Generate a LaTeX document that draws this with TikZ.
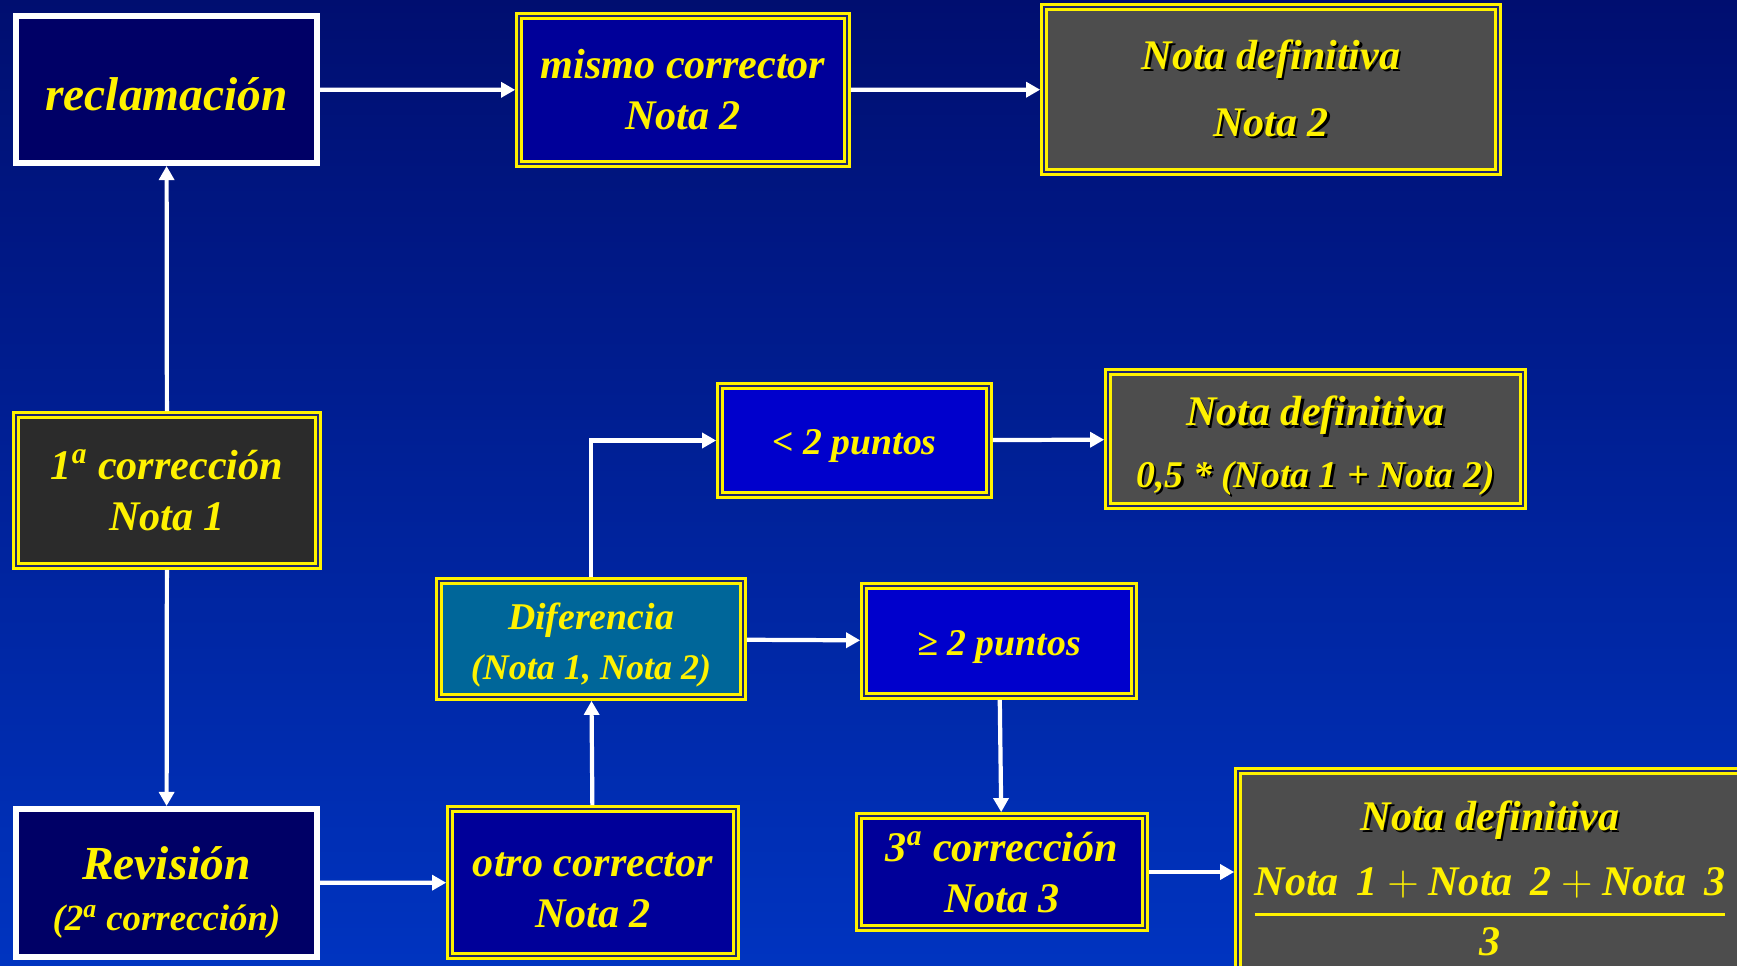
\documentclass[tikz,border=0pt]{standalone}
\usepackage{fontspec}
\usepackage{amsmath}
\setmainfont{Liberation Serif}
\usetikzlibrary{arrows.meta}

\definecolor{fondoarriba}{RGB}{0,14,112}
\definecolor{fondoabajo}{RGB}{0,52,192}
\definecolor{hueco}{RGB}{30,40,110}
\definecolor{azulosc}{RGB}{0,0,102}
\definecolor{azulmed}{RGB}{0,0,153}
\definecolor{azulvivo}{RGB}{0,0,204}
\definecolor{grisnota}{RGB}{77,77,77}
\definecolor{grisosc}{RGB}{43,43,43}
\definecolor{turquesa}{RGB}{0,102,153}

% texto con sombra negra
\newcommand{\sombra}[1]{\leavevmode\rlap{\kern1.4pt\raisebox{-1.4pt}{\color{black}#1}}#1}
% baja el texto sin cambiar la caja
\newcommand{\baja}[2]{\raisebox{-#1}[\height][\depth]{#2}}

\tikzset{
  caja/.style={draw=yellow, double=hueco, line width=1.4pt, double distance=1.5pt,
    outer sep=2.2pt, text=yellow, align=center, inner sep=0pt,
    font=\fontsize{24}{29}\selectfont\bfseries\itshape},
  cajablanca/.style={draw=white, line width=3.4pt, fill=azulosc, text=yellow,
    align=center, inner sep=0pt, font=\fontsize{24}{29}\selectfont\bfseries\itshape},
  flecha/.style={draw=white, line width=2.4pt, -{Triangle[width=8.5pt,length=8pt]}},
}

\begin{document}
\begin{tikzpicture}[x=0.02cm,y=-0.02cm]

\shade[top color=fondoarriba, bottom color=fondoabajo] (0,0) rectangle (1737,966);
\clip (0,0) rectangle (1737,966);

% fila de arriba
\node[cajablanca, minimum width=6.02cm, minimum height=2.94cm] (recl) at (166.5,89.5)
  {\fontsize{27}{32}\selectfont\baja{2.5pt}{reclamación}};
\node[caja, fill=azulmed, minimum width=6.56cm, minimum height=2.96cm] (mismo) at (683,90)
  {mismo corrector\\Nota 2};
\node[caja, fill=grisnota, minimum width=9.08cm, minimum height=3.30cm] (def1) at (1271,89.5)
  {\sombra{Nota definitiva}\\[9pt]\sombra{Nota 2}};

% columna izquierda
\node[caja, fill=grisosc, minimum width=6.04cm, minimum height=3.02cm] (corr1) at (167,490.5)
  {1\textsuperscript{a} corrección\\Nota 1};
\node[cajablanca, minimum width=6.02cm, minimum height=2.96cm] (revis) at (166.5,883)
  {\rule{0pt}{30pt}\fontsize{27}{30}\selectfont Revisión\\\fontsize{21}{25}\selectfont(2\textsuperscript{a} corrección)};

% rama de la diferencia
\node[caja, fill=azulmed, minimum width=5.72cm, minimum height=2.94cm] (otro) at (593,882.5)
  {\rule{0pt}{22.5pt}otro corrector\\Nota 2};
\node[caja, fill=turquesa, minimum width=6.08cm, minimum height=2.32cm] (dif) at (591,639)
  {\rule{0pt}{22pt}\fontsize{21.5}{26}\selectfont Diferencia\\\fontsize{20.5}{24}\selectfont(Nota 1, Nota 2)};
\node[caja, fill=azulvivo, minimum width=5.38cm, minimum height=2.18cm] (menos) at (854.5,440.5)
  {\fontsize{21.5}{26}\selectfont\baja{3pt}{< 2 puntos}};
\node[caja, fill=grisnota, minimum width=8.30cm, minimum height=2.68cm] (def2) at (1315.5,439)
  {\rule{0pt}{26pt}\sombra{Nota definitiva}\\[6pt]\fontsize{21.5}{26}\selectfont\sombra{0,5 * (Nota 1 + Nota 2)}};
\node[caja, fill=azulvivo, minimum width=5.40cm, minimum height=2.20cm] (mayor) at (999,641)
  {\fontsize{21.5}{26}\selectfont\baja{3.5pt}{≥ 2 puntos}};
\node[caja, fill=azulmed, minimum width=5.72cm, minimum height=2.24cm] (corr3) at (1002,872)
  {3\textsuperscript{a} corrección\\Nota 3};
\node[caja, fill=grisnota, minimum width=10.08cm, minimum height=4.28cm] (def3) at (1490,878)
  {\sombra{Nota definitiva}\\[14pt]
   $\genfrac{}{}{1.6pt}{0}{\mbox{Nota\ \,1}+\mbox{Nota\ \,2}+\mbox{Nota\ \,3}}{\mbox{3}}$};

% flechas
\draw[flecha] (recl) -- (mismo);
\draw[flecha] (mismo) -- (def1);
\draw[flecha] (corr1) -- (recl);
\draw[flecha] (corr1) -- (revis);
\draw[flecha] (revis) -- (otro);
\draw[flecha] (otro) -- (dif);
\draw[flecha] (dif.north) |- (menos.west);
\draw[flecha] (menos) -- (def2);
\draw[flecha] (dif) -- (mayor);
\draw[flecha] (mayor) -- (corr3);
\draw[flecha] (corr3.east) -- (corr3.east -| def3.west);

\end{tikzpicture}
\end{document}
